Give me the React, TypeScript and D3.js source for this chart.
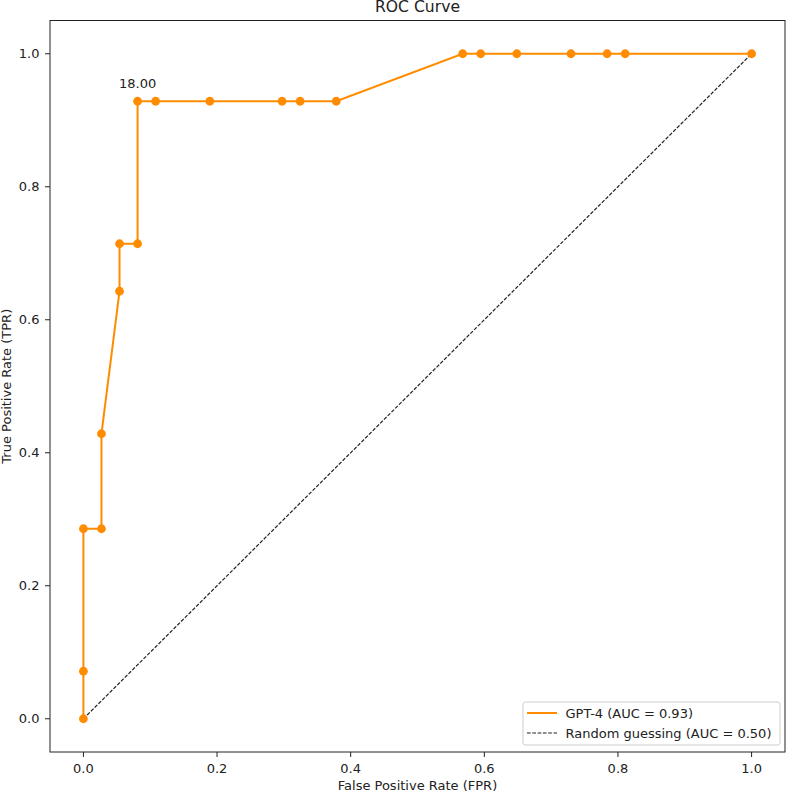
import React from "react";
import * as d3 from "d3";

const fpr = [0, 0, 0, 1 / 37, 1 / 37, 2 / 37, 2 / 37, 3 / 37, 3 / 37, 4 / 37, 7 / 37, 11 / 37, 12 / 37, 14 / 37, 21 / 37, 22 / 37, 24 / 37, 27 / 37, 29 / 37, 30 / 37, 1];
const tpr = [0, 1 / 14, 4 / 14, 4 / 14, 6 / 14, 9 / 14, 10 / 14, 10 / 14, 13 / 14, 13 / 14, 13 / 14, 13 / 14, 13 / 14, 13 / 14, 1, 1, 1, 1, 1, 1, 1];
const xTicks = [0, 0.2, 0.4, 0.6, 0.8, 1.0];
const yTicks = [0, 0.2, 0.4, 0.6, 0.8, 1.0];
const annotation = { index: 8, label: "18.00" };
const legendLabels = ["GPT-4 (AUC = 0.93)", "Random guessing (AUC = 0.50)"];

const W = 788, H = 793;
const L = 50, R = 785, T = 20.5, B = 752;
const FONT = "DejaVu Sans, sans-serif";
const ORANGE = "#ff8c00";
const FS = 13;

export default function App() {
  const x = d3.scaleLinear().domain([-0.05, 1.05]).range([L, R]);
  const y = d3.scaleLinear().domain([-0.05, 1.05]).range([B, T]);
  const pts = fpr.map((f, i) => [f, tpr[i]] as [number, number]);
  const line = d3.line<[number, number]>().x(d => x(d[0])).y(d => y(d[1]));
  const diag = line([[0, 0], [1, 1]]);
  const ap = pts[annotation.index];

  return (
    <svg width={W} height={H} style={{ position: "absolute", left: 0, top: 0, background: "#fff" }} fontFamily={FONT}>
      <rect x={0} y={0} width={W} height={H} fill="#fff" />
      <text x={(L + R) / 2} y={12.3} textAnchor="middle" fontSize={15.6} fill="#222">ROC Curve</text>
      <path d={diag || ""} fill="none" stroke="#222" strokeWidth={1.2} strokeDasharray="3.7,1.6" />
      <path d={line(pts) || ""} fill="none" stroke={ORANGE} strokeWidth={2} />
      {pts.map((p, i) => (
        <circle key={i} cx={x(p[0])} cy={y(p[1])} r={4.4} fill={ORANGE} />
      ))}
      <text x={x(ap[0])} y={y(ap[1]) - 13.3} textAnchor="middle" fontSize={FS} fill="#222">{annotation.label}</text>
      <rect x={L} y={T} width={R - L} height={B - T} fill="none" stroke="#222" strokeWidth={1} />
      {xTicks.map(t => (
        <g key={"x" + t}>
          <line x1={x(t)} x2={x(t)} y1={B} y2={B + 5} stroke="#222" />
          <text x={x(t)} y={772.5} textAnchor="middle" fontSize={FS} fill="#222">{t.toFixed(1)}</text>
        </g>
      ))}
      {yTicks.map(t => (
        <g key={"y" + t}>
          <line x1={L - 5} x2={L} y1={y(t)} y2={y(t)} stroke="#222" />
          <text x={39.5} y={y(t) + 4.7} textAnchor="end" fontSize={FS} fill="#222">{t.toFixed(1)}</text>
        </g>
      ))}
      <text x={(L + R) / 2} y={789.5} textAnchor="middle" fontSize={FS} fill="#222">False Positive Rate (FPR)</text>
      <text transform={`translate(11, ${(T + B) / 2}) rotate(-90)`} textAnchor="middle" fontSize={FS} fill="#222">True Positive Rate (TPR)</text>
      <g>
        <rect x={523} y={702} width={257} height={43} rx={2.5} fill="#fff" fillOpacity={0.8} stroke="#ccc" />
        <line x1={527} x2={557} y1={713} y2={713} stroke={ORANGE} strokeWidth={2} />
        <text x={565.5} y={717.7} fontSize={FS} fill="#222">{legendLabels[0]}</text>
        <line x1={527} x2={557} y1={733} y2={733} stroke="#222" strokeWidth={1.2} strokeDasharray="3.7,1.6" />
        <text x={565.5} y={737.7} fontSize={FS} fill="#222">{legendLabels[1]}</text>
      </g>
    </svg>
  );
}
